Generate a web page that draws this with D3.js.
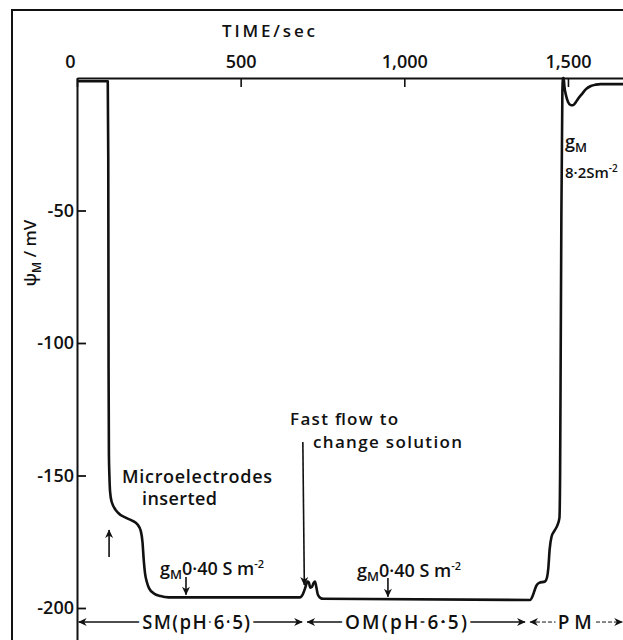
<!DOCTYPE html>
<html><head><meta charset="utf-8">
<script src="https://cdn.jsdelivr.net/npm/d3@7"></script>
<style>
body{margin:0;background:#fff;}
text{font-family:'Open Sans',sans-serif;fill:#111;font-weight:600;}
</style>
</head><body>
<svg id="chart" width="623" height="640"></svg>
<script>
// ---- data (time in s, membrane potential in mV) ----
const timeSec = [0, 94, 95.5, 96.5, 97.5, 99, 101, 106, 125, 150, 168, 185, 195, 200, 204, 208, 213, 220, 235, 255, 280, 305,
  681, 690, 697, 704, 708, 713, 718, 723, 727, 731, 736, 745, 752,
  1384, 1392, 1399, 1404, 1412, 1430, 1436, 1440, 1444, 1450, 1458, 1467, 1474, 1476, 1478, 1480, 1483, 1485,
  1487, 1489, 1494, 1500, 1508, 1515, 1522, 1530, 1543, 1555, 1570, 1585, 1600, 1670];
const potential = [-1.2, -1.2, -30, -110, -142, -150, -156, -160, -164, -166, -167, -168.5, -171, -175, -182, -187, -190, -192.5, -194.5, -195.5, -196, -196,
  -196, -194.8, -192.5, -190, -190.3, -192.3, -192, -190.5, -190, -192, -195, -196.3, -196.5,
  -197, -195.5, -193, -191.5, -190.5, -190, -188.5, -185, -178, -173, -171, -169, -166, -150, -100, -50, -5, 0,
  0, -3, -6.5, -9, -10.2, -10.3, -9.5, -8, -6, -4.2, -3, -2.5, -2.3, -2.3];

const xTicks = [0, 500, 1000, 1500];
const yTicks = [-50, -100, -150, -200];

// solution periods along the bottom
const periodLabels = ["SM(pH 6·5)", "OM(pH 6·5)", "PM"];
const periodStart = [5, 703, 1384];
const periodEnd = [688, 1369, 1666];
const periodMid = [364, 1005, 1521];
const periodLevel = -205.3;

// annotation arrows [t, mV from, mV to]
const arrowT = [98, 690, 333, 950];
const arrowFrom = [-180.8, -137.4, -188.3, -188.7];
const arrowTo = [-170.6, -191.3, -195, -195.8];

// ---- chart ----
const svg = d3.select("#chart");
const x = d3.scaleLinear().domain([0, 1670]).range([77, 77 + 1670 * 0.3273]);
const y = d3.scaleLinear().domain([0, -212]).range([78, 78 + 212 * 2.65]);

// outer frame
svg.append("path").attr("d", "M12,640V10H623").attr("fill", "none").attr("stroke", "#111").attr("stroke-width", 2);

const defs = svg.append("defs");
defs.append("marker").attr("id", "ah").attr("viewBox", "-10 -6 12 12")
  .attr("refX", 0).attr("refY", 0).attr("markerWidth", 12).attr("markerHeight", 12)
  .attr("markerUnits", "userSpaceOnUse").attr("orient", "auto-start-reverse")
  .append("path").attr("d", "M0.5,0 L-8,-4 L-5.5,0 L-8,4 Z").attr("fill", "#111");

// top axis
const gx = svg.append("g").attr("transform", `translate(0,${y(0)})`)
  .call(d3.axisTop(x).tickValues(xTicks).tickSizeInner(-9).tickSizeOuter(0).tickPadding(10).tickFormat(d3.format(",")));
gx.select(".domain").attr("stroke", "#111").attr("stroke-width", 2);
gx.selectAll(".tick line").attr("stroke", "#111").attr("stroke-width", 1.6);
gx.selectAll(".tick text").attr("font-size", 18).attr("font-family", "'Open Sans',sans-serif").attr("fill", "#111")
  .attr("dx", d => d === 0 ? -7 : 0);

// left axis
const gy = svg.append("g").attr("transform", `translate(${x(0)},0)`)
  .call(d3.axisLeft(y).tickValues(yTicks).tickSizeInner(-9).tickSizeOuter(0).tickPadding(3).tickFormat(d => String(d)));
gy.select(".domain").attr("stroke", "#111").attr("stroke-width", 2);
gy.selectAll(".tick line").attr("stroke", "#111").attr("stroke-width", 1.8);
gy.selectAll(".tick text").attr("font-size", 18).attr("font-family", "'Open Sans',sans-serif").attr("fill", "#111");

// axis titles
svg.append("text").attr("x", 222).attr("y", 37).attr("font-size", 17).attr("textLength", 93)
  .attr("lengthAdjust", "spacing").text("TIME/sec");
const yt = svg.append("text").attr("transform", "translate(36,253) rotate(-90)").attr("text-anchor", "middle").attr("font-size", 17);
yt.append("tspan").text("ψ");
yt.append("tspan").attr("font-size", 12).attr("dy", 5).text("M");
yt.append("tspan").attr("dy", -5).text(" / mV");

// trace
const pts = timeSec.map((t, i) => [t, potential[i]]);
svg.append("path").datum(pts)
  .attr("d", d3.line().x(d => x(d[0])).y(d => y(d[1])).curve(d3.curveMonotoneX))
  .attr("fill", "none").attr("stroke", "#111").attr("stroke-width", 2.6).attr("stroke-linejoin", "round");

// annotation arrows
arrowT.forEach((t, i) => {
  svg.append("line").attr("x1", x(t)).attr("x2", x(t) + (i === 1 ? 1.5 : 0))
    .attr("y1", y(arrowFrom[i])).attr("y2", y(arrowTo[i]))
    .attr("stroke", "#111").attr("stroke-width", 1.6).attr("marker-end", "url(#ah)");
});

// annotation texts
function label(t, v, str, size, len) {
  const el = svg.append("text").attr("x", x(t)).attr("y", y(v)).attr("font-size", size).text(str);
  if (len) el.attr("textLength", len).attr("lengthAdjust", "spacing");
  return el;
}
label(137.5, -152.8, "Microelectrodes", 18, 150);
label(198.6, -161.1, "inserted", 18, 75);
label(651, -131, "Fast flow to", 17, 108);
label(721, -139.6, "change solution", 17, 149);

function gLabel(t, v, rest) {
  const el = svg.append("text").attr("x", x(t)).attr("y", y(v)).attr("font-size", 18);
  el.append("tspan").text("g");
  el.append("tspan").attr("font-size", 13).attr("dy", 4).text("M");
  el.append("tspan").attr("dy", -4).text(rest);
  el.append("tspan").attr("font-size", 11).attr("dy", -7).text("-2");
  return el;
}
gLabel(253.6, -187.5, "0·40 S m");
gLabel(855.5, -188.3, "0·40 S m");

const g3 = svg.append("text").attr("x", x(1491)).attr("y", y(-26.4)).attr("font-size", 18);
g3.append("tspan").text("g");
g3.append("tspan").attr("font-size", 13).attr("dy", 4).text("M");
const g4 = svg.append("text").attr("x", x(1491)).attr("y", y(-37.7)).attr("font-size", 15);
g4.append("tspan").text("8·2Sm");
g4.append("tspan").attr("font-size", 10).attr("dy", -6).text("-2");

// periods along the bottom
periodLabels.forEach((lab, i) => {
  svg.append("line").attr("x1", x(periodStart[i])).attr("x2", x(periodEnd[i]))
    .attr("y1", y(periodLevel)).attr("y2", y(periodLevel))
    .attr("stroke", "#111").attr("stroke-width", i === 2 ? 1 : 1.4)
    .attr("stroke-dasharray", i === 2 ? "4,2" : null)
    .attr("marker-start", "url(#ah)").attr("marker-end", "url(#ah)");
  svg.append("text").attr("x", x(periodMid[i])).attr("y", y(periodLevel) + 6.5)
    .attr("text-anchor", "middle").attr("font-size", 19)
    .attr("textLength", [108, 122, 34][i]).attr("lengthAdjust", "spacing")
    .attr("stroke", "#fff").attr("stroke-width", 8).attr("paint-order", "stroke")
    .text(lab);
});
</script>
</body></html>
